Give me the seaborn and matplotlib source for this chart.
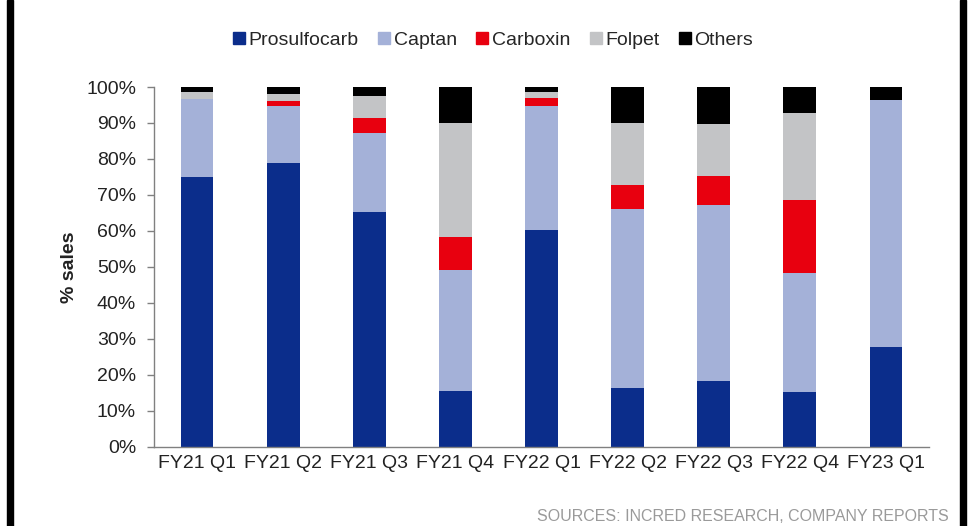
import numpy as np
import pandas as pd
import matplotlib
matplotlib.use("Agg")
import matplotlib.pyplot as plt
from matplotlib.lines import Line2D
import seaborn as sns

# Quarterly sales mix (% of sales)
quarters = ["FY21 Q1", "FY21 Q2", "FY21 Q3", "FY21 Q4", "FY22 Q1",
            "FY22 Q2", "FY22 Q3", "FY22 Q4", "FY23 Q1"]
prosulfocarb = [75.0, 79.0, 65.3, 15.6, 60.3, 16.5, 18.4, 15.4, 27.8]
captan       = [21.6, 15.7, 21.8, 33.6, 34.5, 49.5, 48.9, 32.8, 68.7]
carboxin     = [0.0, 1.5, 4.4, 9.1, 2.1, 6.7, 8.1, 20.5, 0.0]
folpet       = [2.0, 1.9, 6.0, 31.8, 1.8, 17.4, 14.3, 24.1, 0.0]
others       = [1.4, 1.9, 2.5, 9.9, 1.3, 9.9, 10.3, 7.2, 3.5]

series_names = ["Prosulfocarb", "Captan", "Carboxin", "Folpet", "Others"]
series_vals = [prosulfocarb, captan, carboxin, folpet, others]
colors = ["#0B2D8B", "#A4B1D8", "#E8000F", "#C3C4C6", "#000000"]

df = pd.DataFrame({"quarter": quarters})
for name, vals in zip(series_names, series_vals):
    df[name] = vals
cum = df[series_names].cumsum(axis=1)

sns.set_theme(style="white")
plt.rcParams["font.family"] = ["Liberation Sans", "DejaVu Sans"]

fig = plt.figure(figsize=(9.69, 5.26), dpi=100)
ax = fig.add_axes([0.159, 0.1502, 0.7997, 0.6844])

# Stacked bars: draw cumulative totals from the top layer down
for name, color in reversed(list(zip(series_names, colors))):
    sns.barplot(x=df["quarter"], y=cum[name], color=color, width=0.38,
                linewidth=0, saturation=1, ax=ax, order=quarters)

ax.set_ylim(0, 100)
ax.set_xlim(-0.5, len(quarters) - 0.5)
ax.set_yticks(np.arange(0, 101, 10))
ax.set_yticklabels([f"{v}%" for v in range(0, 101, 10)], fontsize=14, color="#222222")
ax.set_xticks(range(len(quarters)))
ax.set_xticklabels(quarters, fontsize=14, color="#222222")
ax.set_xticks(np.arange(-0.5, len(quarters), 1), minor=True)
ax.tick_params(axis="x", which="major", length=0, pad=6)
ax.tick_params(axis="x", which="minor", length=5, width=1, color="#808080", direction="out")
ax.tick_params(axis="y", length=5, width=1, color="#808080", direction="out", left=True, pad=8)
ax.set_xlabel("")
ax.set_ylabel("% sales", fontsize=14, fontweight="bold", labelpad=6, color="#222222")

for side in ["top", "right"]:
    ax.spines[side].set_visible(False)
for side in ["left", "bottom"]:
    ax.spines[side].set_visible(True)
    ax.spines[side].set_color("#808080")
    ax.spines[side].set_linewidth(1)

handles = [Line2D([0], [0], marker="s", linestyle="", markersize=8,
                  markerfacecolor=c, markeredgecolor=c, label=n)
           for n, c in zip(series_names, colors)]
fig.legend(handles=handles, loc="center", bbox_to_anchor=(0.508, 0.924), ncol=5,
           frameon=False, fontsize=14, handletextpad=0.1, columnspacing=0.9,
           handlelength=0.8)

fig.text(0.979, 0.004, "SOURCES: INCRED RESEARCH, COMPANY REPORTS",
         ha="right", va="bottom", fontsize=11.5, color="#9A9A9A")

# Black side rules framing the panel
fig.patches.append(plt.Rectangle((7 / 969, 0), 6 / 969, 1, transform=fig.transFigure,
                                 color="black", zorder=5))
fig.patches.append(plt.Rectangle((960 / 969, 0), 6 / 969, 1, transform=fig.transFigure,
                                 color="black", zorder=5))

fig.savefig("out.png", dpi=100)
